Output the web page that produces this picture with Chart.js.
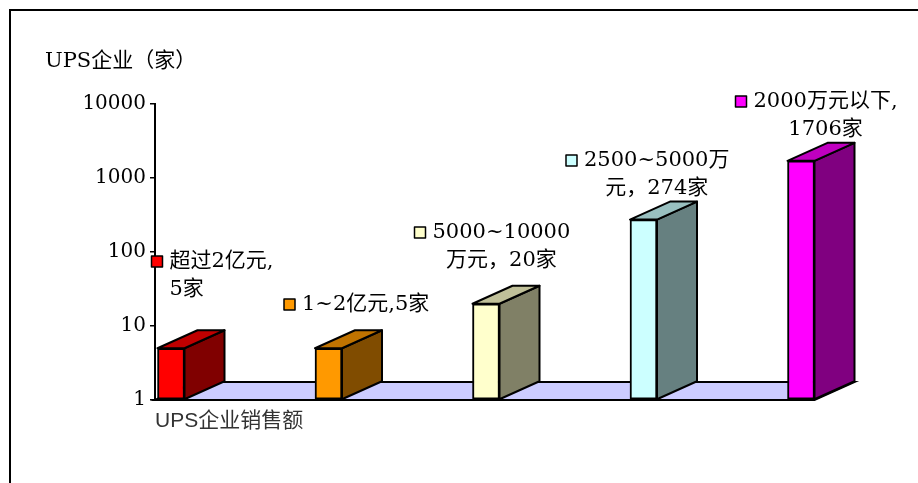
<!DOCTYPE html>
<html>
<head>
<meta charset="utf-8">
<script src="https://cdn.jsdelivr.net/npm/chart.js@4/dist/chart.umd.min.js"></script>
<style>
  html, body { margin: 0; padding: 0; background: #fff; }
  #wrap { position: relative; width: 918px; height: 483px; }
</style>
</head>
<body>
<div id="wrap"><canvas id="upsChart" width="918" height="483"></canvas></div>
<script>
// 企业数量（家），按销售额分组
const categories = ['超过2亿元', '1~2亿元', '5000~10000万元', '2500~5000万元', '2000万元以下'];
const counts = [5, 5, 20, 274, 1706];
const yTicks = [1, 10, 100, 1000, 10000];

// 数据标签文字，{v} 处填入数量
const labelLines = [
    ['超过2亿元,', '{v}家'],
    ['1~2亿元,{v}家'],
    ['5000~10000', '万元，{v}家'],
    ['2500~5000万', '元，{v}家'],
    ['2000万元以下,', '{v}家']
];

const frontColors = ['#ff0000', '#ff9900', '#ffffcc', '#ccffff', '#ff00ff'];
const sideColors  = ['#800000', '#804c00', '#808066', '#668080', '#800080'];
const topColors   = ['#c00000', '#c07300', '#c0c099', '#99c0c0', '#c000c0'];

// 标签相对柱子左边的位置
const labelPos = [
    { dx: 12, y: 262, align: 'left' },
    { dx: -13, y: 305, align: 'left' },
    { dx: -40, y: 233, align: 'center' },
    { dx: -46, y: 161, align: 'center' },
    { dx: -34, y: 102, align: 'center' }
];

const DEPTH_X = 40, DEPTH_Y = 18;
const serif = '"DejaVu Serif", "Noto Sans CJK SC", serif';

const frame = {
    id: 'frame',
    beforeDraw(chart) {
        const ctx = chart.ctx;
        ctx.save();
        ctx.fillStyle = '#fff';
        ctx.fillRect(0, 0, chart.width, chart.height);
        ctx.strokeStyle = '#000';
        ctx.lineWidth = 2;
        ctx.strokeRect(10, 10, chart.width + 20, chart.height + 20);
        ctx.fillStyle = '#000';
        ctx.font = '21px ' + serif;
        ctx.textBaseline = 'middle';
        ctx.fillText('UPS企业（家）', 45, 62);
        ctx.restore();
    }
};

// 底板
const floor = {
    id: 'floor',
    beforeDatasetsDraw(chart) {
        const ctx = chart.ctx;
        const bars = chart.getDatasetMeta(0).data;
        const last = bars[bars.length - 1];
        const y0 = chart.scales.y.getPixelForValue(1);
        const x0 = chart.chartArea.left;
        const x1 = last.x + last.width / 2;
        ctx.save();
        ctx.beginPath();
        ctx.moveTo(x0, y0);
        ctx.lineTo(x0 + DEPTH_X, y0 - DEPTH_Y);
        ctx.lineTo(x1 + DEPTH_X, y0 - DEPTH_Y);
        ctx.lineTo(x1, y0);
        ctx.closePath();
        ctx.fillStyle = '#ccccff';
        ctx.fill();
        ctx.strokeStyle = '#000';
        ctx.lineWidth = 2;
        ctx.stroke();
        ctx.restore();
    }
};

// 柱子侧面、顶面和数据标签
const depth = {
    id: 'depth',
    afterDatasetsDraw(chart) {
        const ctx = chart.ctx;
        const bars = chart.getDatasetMeta(0).data;
        ctx.save();
        ctx.lineWidth = 2;
        ctx.strokeStyle = '#000';
        ctx.lineJoin = 'round';
        bars.forEach((bar, i) => {
            const l = bar.x - bar.width / 2, r = bar.x + bar.width / 2;
            const t = bar.y, b = bar.base;
            ctx.beginPath();
            ctx.moveTo(r, t);
            ctx.lineTo(r + DEPTH_X, t - DEPTH_Y);
            ctx.lineTo(r + DEPTH_X, b - DEPTH_Y);
            ctx.lineTo(r, b);
            ctx.closePath();
            ctx.fillStyle = sideColors[i];
            ctx.fill();
            ctx.stroke();
            ctx.beginPath();
            ctx.moveTo(l, t);
            ctx.lineTo(l + DEPTH_X, t - DEPTH_Y);
            ctx.lineTo(r + DEPTH_X, t - DEPTH_Y);
            ctx.lineTo(r, t);
            ctx.closePath();
            ctx.fillStyle = topColors[i];
            ctx.fill();
            ctx.stroke();
        });

        ctx.font = '21px ' + serif;
        ctx.textBaseline = 'middle';
        bars.forEach((bar, i) => {
            const lines = labelLines[i].map(s => s.replace('{v}', counts[i]));
            const pos = labelPos[i];
            const widths = lines.map(s => ctx.measureText(s).width);
            const maxW = Math.max(...widths);
            const x = bar.x - bar.width / 2 + pos.dx;
            ctx.fillStyle = frontColors[i];
            ctx.lineWidth = 1.5;
            const sx = x - 18, sy = pos.y - 6;
            ctx.fillRect(sx, sy, 11, 11);
            ctx.strokeRect(sx, sy, 11, 11);
            ctx.fillStyle = '#000';
            lines.forEach((s, k) => {
                let tx = x;
                if (pos.align === 'center') tx = x + (maxW - widths[k]) / 2;
                ctx.fillText(s, tx, pos.y + k * 28);
            });
        });
        ctx.restore();
    }
};

new Chart(document.getElementById('upsChart'), {
    type: 'bar',
    data: {
        datasets: [{
            data: counts.map((v, i) => ({ x: i, y: v })),
            backgroundColor: frontColors,
            borderColor: '#000',
            borderWidth: 2,
            borderSkipped: false,
            barThickness: 27,
            base: 1
        }]
    },
    options: {
        responsive: false,
        animation: false,
        layout: { padding: { top: 104, right: 38, bottom: 49, left: 0 } },
        plugins: { legend: { display: false }, tooltip: { enabled: false } },
        scales: {
            x: {
                type: 'linear',
                offset: false,
                min: -16 / 157.5,
                max: (880 - 171) / 157.5,
                grid: { display: false, offset: false },
                border: { display: false },
                ticks: { display: false },
                title: {
                    display: true,
                    text: 'UPS企业销售额',
                    align: 'start',
                    color: '#333',
                    font: { family: '"Liberation Sans", "Noto Sans CJK SC", sans-serif', size: 21 },
                    padding: 0
                },
                afterFit(scale) { scale.height = 34; }
            },
            y: {
                type: 'logarithmic',
                min: 1,
                max: 10000,
                afterBuildTicks(scale) { scale.ticks = yTicks.map(v => ({ value: v })); },
                ticks: {
                    color: '#000',
                    padding: 4,
                    font: { family: serif, size: 20 },
                    callback: v => String(v)
                },
                grid: { drawOnChartArea: false, tickLength: 5, color: '#000', lineWidth: 1.5 },
                border: { display: true, color: '#000', width: 2 },
                afterFit(scale) { scale.width = 155; }
            }
        }
    },
    plugins: [frame, floor, depth]
});
</script>
</body>
</html>
